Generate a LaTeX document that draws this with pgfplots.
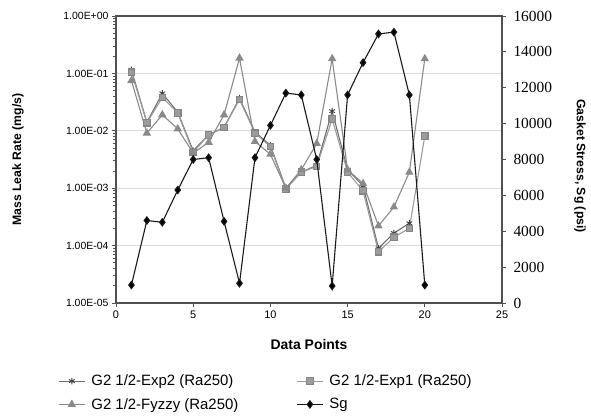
\documentclass[border=0pt]{standalone}
\usepackage{fontspec}
\setmainfont{Liberation Sans}
\newfontfamily\timesf{Liberation Serif}
\usepackage{pgfplots}
\pgfplotsset{compat=1.18}

\definecolor{axgray}{HTML}{505050}
\definecolor{gridgray}{HTML}{DADADA}
\definecolor{expB}{HTML}{6E6E6E}
\definecolor{expA}{HTML}{9C9C9C}
\definecolor{fuz}{HTML}{8A8A8A}

\pgfplotsset{
  base/.style={
    width=386bp, height=287bp, scale only axis,
    xmin=0, xmax=25,
    axis line style={axgray, line width=1.1bp},
    tick style={axgray, line width=0.8bp},
    major tick length=4bp, tick align=outside,
  },
  exptwo/.style={color=expB, line width=1.1bp, mark=asterisk, mark size=3.3bp,
    mark options={solid, draw=black!75, line width=0.9bp}},
  expone/.style={color=expA, line width=1.1bp, mark=square*, mark size=3.2bp,
    mark options={solid, fill=expA, draw=expA!85!black}},
  fuzzy/.style={color=fuz, line width=1.1bp, mark=triangle*, mark size=3.8bp,
    mark options={solid, fill=fuz, draw=fuz}},
  sgstyle/.style={color=black!90, line width=1.1bp, mark=diamond*, mark size=3.6bp,
    mark options={solid, fill=black}},
  legend image code/.code={
    \draw[mark repeat=2, mark phase=2] plot coordinates {(0bp,0bp) (13bp,0bp) (26bp,0bp)};
  },
}

\begin{document}
\begin{tikzpicture}
\path[use as bounding box] (-116bp,-115bp) rectangle (475bp,303bp);

\begin{axis}[
  base,
  ymode=log, ymin=1e-5, ymax=1,
  ytick={1e-5,1e-4,1e-3,1e-2,1e-1,1},
  yticklabels={1.00E-05,1.00E-04,1.00E-03,1.00E-02,1.00E-01,1.00E+00},
  ytick pos=left, xtick pos=bottom,
  ymajorgrids, grid style={gridgray, line width=0.9bp},
  xtick={0,5,10,15,20,25},
  yticklabel style={font=\fontsize{10.5}{12}\selectfont},
  xticklabel style={font=\fontsize{11}{13}\selectfont},
  /pgf/number format/assume math mode=true,
  xlabel={Data Points},
  xlabel style={font=\bfseries\fontsize{14}{16}\selectfont, at={(axis description cs:0.5,-0.146)}, anchor=center},
  ylabel={Mass Leak Rate (mg/s)},
  ylabel style={font=\bfseries\fontsize{12.3}{14}\selectfont, at={(axis description cs:-0.254,0.5)}, anchor=center},
]
\addplot[exptwo] coordinates {
  (1,0.115) (2,0.014) (3,0.045) (4,0.021) (5,0.0045) (6,0.0085) (7,0.0115)
  (8,0.037) (9,0.0095) (10,0.0056) (11,0.001) (12,0.0019) (13,0.0025)
  (14,0.022) (15,0.0021) (16,0.0011) (17,0.00009) (18,0.000165) (19,0.000245)
};
\addplot[expone] coordinates {
  (1,0.105) (2,0.0138) (3,0.038) (4,0.0205) (5,0.0042) (6,0.0085) (7,0.0115)
  (8,0.035) (9,0.0091) (10,0.0053) (11,0.00097) (12,0.0019) (13,0.0024)
  (14,0.016) (15,0.0019) (16,0.0009) (17,0.000078) (18,0.00014) (19,0.0002)
  (20,0.0081)
};
\addplot[fuzzy] coordinates {
  (1,0.075) (2,0.0091) (3,0.019) (4,0.0108) (5,0.0041) (6,0.0063) (7,0.019)
  (8,0.185) (9,0.0065) (10,0.0039) (11,0.001) (12,0.0021) (13,0.006)
  (14,0.18) (15,0.0021) (16,0.0012) (17,0.00022) (18,0.00047) (19,0.0019)
  (20,0.18)
};
\end{axis}

\begin{axis}[
  base,
  axis x line=none,
  axis y line*=right,
  ymin=0, ymax=16000,
  ytick={0,2000,...,16000},
  scaled y ticks=false,
  /pgf/number format/1000 sep={},
  /pgf/number format/assume math mode=true,
  yticklabel style={font=\timesf\fontsize{15.5}{17}\selectfont, xshift=4bp},
  ylabel={Gasket Stress, Sg (psi)},
  ylabel style={font=\bfseries\fontsize{12.3}{14}\selectfont, at={(axis description cs:1.202,0.477)}, anchor=center, rotate=180},
  legend columns=2,
  legend cell align=left,
  legend style={draw=none, fill=none, inner sep=0pt,
    font=\fontsize{15}{17}\selectfont,
    at={(axis description cs:-0.150,-0.243)}, anchor=north west,
    /tikz/every even column/.append style={column sep=56bp},
    /tikz/every odd column/.append style={column sep=4bp},
    row sep=7bp},
]
\addlegendimage{exptwo}
\addlegendentry{G2 1/2-Exp2 (Ra250)}
\addlegendimage{expone}
\addlegendentry{G2 1/2-Exp1 (Ra250)}
\addlegendimage{fuzzy}
\addlegendentry{G2 1/2-Fyzzy (Ra250)}
\addplot[sgstyle] coordinates {
  (1,1000) (2,4600) (3,4500) (4,6300) (5,8000) (6,8100) (7,4550) (8,1100)
  (9,8100) (10,9900) (11,11700) (12,11600) (13,8000) (14,950) (15,11600)
  (16,13400) (17,15000) (18,15100) (19,11600) (20,1000)
};
\addlegendentry{Sg}
\end{axis}
\end{tikzpicture}
\end{document}
